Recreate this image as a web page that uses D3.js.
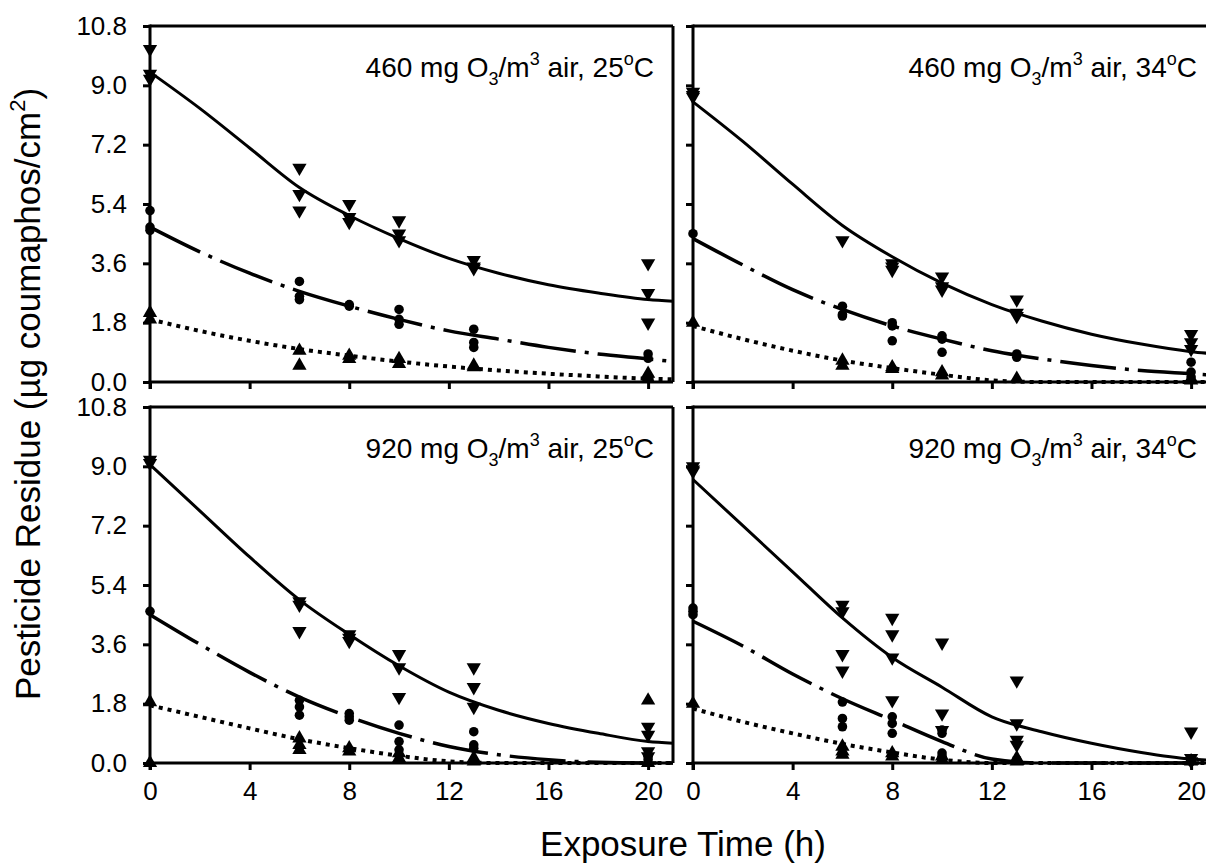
<!DOCTYPE html>
<html><head><meta charset="utf-8">
<script src="https://cdn.jsdelivr.net/npm/d3@7"></script>
<style>
html,body{margin:0;padding:0;background:#fff;}
svg{display:block;}
text{font-family:"Liberation Sans",Arial,sans-serif;fill:#000;}
</style></head>
<body>
<svg id="chart" width="1206" height="865"></svg>
<script>
// ---------- data ----------
const xTicks = [0, 4, 8, 12, 16, 20];
const yTicks = [0.0, 1.8, 3.6, 5.4, 7.2, 9.0, 10.8];
const panelLabels = [
  ["460", "25"], ["460", "34"], ["920", "25"], ["920", "34"]
];
const fitX = [0, 2, 4, 6, 8, 10, 12, 14, 16, 18, 20, 21];

// observed points [time, residue]
const tlDown = [[0,10.1],[0,9.35],[0,9.2],[6,6.5],[6,5.7],[6,5.2],[8,5.4],[8,5.0],[8,4.85],[10,4.9],[10,4.5],[10,4.3],[13,3.7],[13,3.5],[13,3.45],[20,3.6],[20,2.7],[20,1.8]];
const tlCirc = [[0,5.2],[0,4.7],[0,4.6],[6,3.05],[6,2.6],[6,2.5],[8,2.35],[8,2.3],[10,2.2],[10,1.9],[10,1.75],[13,1.6],[13,1.2],[13,1.05],[20,0.85],[20,0.72]];
const tlUp   = [[0,2.1],[0,1.9],[6,0.95],[6,0.5],[8,0.8],[8,0.7],[10,0.7],[10,0.55],[13,0.5],[13,0.45],[20,0.25],[20,0.1]];

const trDown = [[0,8.8],[0,8.7],[0,8.65],[6,4.3],[8,3.6],[8,3.5],[8,3.4],[10,3.2],[10,2.9],[10,2.8],[13,2.5],[13,2.1],[13,2.0],[20,1.45],[20,1.2],[20,1.0]];
const trCirc = [[0,4.5],[6,2.3],[6,2.05],[6,2.0],[8,1.8],[8,1.7],[8,1.25],[10,1.4],[10,1.3],[10,0.9],[13,0.85],[13,0.75],[20,0.6],[20,0.3],[20,0.15]];
const trUp   = [[0,1.8],[6,0.65],[6,0.5],[8,0.45],[8,0.4],[10,0.3],[10,0.2],[13,0.1],[20,0.1],[20,0.05]];

const blDown = [[0,9.2],[0,9.1],[6,4.9],[6,4.8],[6,4.0],[8,3.9],[8,3.8],[8,3.7],[10,3.3],[10,2.9],[10,2.0],[13,2.9],[13,2.3],[13,1.7],[20,1.1],[20,0.85],[20,0.35],[20,0.2]];
const blCirc = [[0,4.6],[6,1.9],[6,1.7],[6,1.45],[8,1.5],[8,1.4],[8,1.3],[10,1.15],[10,0.65],[10,0.4],[13,0.95],[13,0.55],[13,0.45],[20,0.2],[20,0.1]];
const blUp   = [[0,1.85],[0,0.0],[6,0.75],[6,0.55],[6,0.4],[8,0.45],[8,0.35],[10,0.3],[10,0.15],[13,0.15],[13,0.05],[20,1.9],[20,0.0]];

const brDown = [[0,9.0],[0,8.9],[0,8.85],[6,4.8],[6,4.6],[6,3.3],[6,2.8],[8,4.4],[8,3.9],[8,3.2],[8,1.9],[10,3.65],[10,1.5],[10,1.0],[13,2.5],[13,1.2],[13,0.7],[13,0.55],[20,0.95],[20,0.15],[20,0.05]];
const brCirc = [[0,4.7],[0,4.6],[0,4.5],[6,1.85],[6,1.35],[6,1.1],[8,1.4],[8,1.2],[8,0.9],[10,1.0],[10,0.9],[10,0.3],[10,0.2],[13,0.1],[20,0.05]];
const brUp   = [[0,1.8],[6,0.5],[6,0.35],[6,0.25],[8,0.3],[8,0.2],[10,0.2],[10,0.1],[13,0.15],[13,0.05],[20,0.05]];

// fitted curves, values at fitX
const tlSolid  = [9.4, 8.3, 7.1, 5.9, 5.05, 4.35, 3.75, 3.3, 2.95, 2.7, 2.5, 2.45];
const tlDash   = [4.7, 3.95, 3.3, 2.75, 2.3, 1.9, 1.55, 1.3, 1.05, 0.85, 0.7, 0.62];
const tlDot    = [1.9, 1.55, 1.25, 1.0, 0.8, 0.62, 0.47, 0.35, 0.25, 0.17, 0.1, 0.08];
const trSolid  = [8.5, 7.3, 6.0, 4.75, 3.8, 3.0, 2.35, 1.85, 1.45, 1.15, 0.92, 0.85];
const trDash   = [4.35, 3.55, 2.8, 2.2, 1.7, 1.3, 0.95, 0.7, 0.5, 0.35, 0.25, 0.2];
const trDot    = [1.7, 1.3, 0.95, 0.65, 0.42, 0.22, 0.05, 0.0, 0.0, 0.0, 0.0, 0.0];
const blSolid  = [9.05, 7.65, 6.25, 4.95, 3.9, 2.95, 2.15, 1.6, 1.2, 0.9, 0.65, 0.6];
const blDash   = [4.5, 3.6, 2.75, 2.0, 1.4, 0.9, 0.5, 0.25, 0.1, 0.02, 0.0, 0.0];
const blDot    = [1.75, 1.4, 1.05, 0.72, 0.45, 0.22, 0.05, 0.0, 0.0, 0.0, 0.0, 0.0];
const brSolid  = [8.6, 7.2, 5.8, 4.4, 3.2, 2.3, 1.4, 0.95, 0.6, 0.32, 0.12, 0.08];
const brDash   = [4.3, 3.55, 2.7, 1.95, 1.3, 0.65, 0.12, 0.0, 0.0, 0.0, 0.0, 0.0];
const brDot    = [1.65, 1.25, 0.9, 0.58, 0.32, 0.1, 0.0, 0.0, 0.0, 0.0, 0.0, 0.0];

// ---------- layout ----------
const svg = d3.select("#chart");
const colX = [[150, 673], [693, 1216]];
const rowY = [[382, 26], [763, 407]];
const panels = [
  {c:0, r:0, down:tlDown, circ:tlCirc, up:tlUp, solid:tlSolid, dash:tlDash, dot:tlDot, lab:panelLabels[0]},
  {c:1, r:0, down:trDown, circ:trCirc, up:trUp, solid:trSolid, dash:trDash, dot:trDot, lab:panelLabels[1]},
  {c:0, r:1, down:blDown, circ:blCirc, up:blUp, solid:blSolid, dash:blDash, dot:blDot, lab:panelLabels[2]},
  {c:1, r:1, down:brDown, circ:brCirc, up:brUp, solid:brSolid, dash:brDash, dot:brDot, lab:panelLabels[3]}
];

const triSym = d3.symbol().type(d3.symbolTriangle).size(88);
const circSym = d3.symbol().type(d3.symbolCircle).size(72);

panels.forEach(p => {
  const x = d3.scaleLinear().domain([0, 21]).range(colX[p.c]);
  const y = d3.scaleLinear().domain([0, 10.8]).range(rowY[p.r]);
  const g = svg.append("g");

  // frame (top + right)
  g.append("line").attr("x1", x(0)).attr("x2", x(21)).attr("y1", y(10.8)).attr("y2", y(10.8))
    .attr("stroke", "#000").attr("stroke-width", 3);
  g.append("line").attr("x1", x(21)).attr("x2", x(21)).attr("y1", y(10.8)).attr("y2", y(0))
    .attr("stroke", "#000").attr("stroke-width", 3);

  // axes
  const xAx = d3.axisBottom(x).tickValues(xTicks).tickSizeInner(7).tickSizeOuter(0)
    .tickFormat(p.r === 1 ? d3.format("d") : () => "").tickPadding(12);
  const gx = g.append("g").attr("transform", `translate(0,${y(0)})`).call(xAx);
  const yAx = d3.axisLeft(y).tickValues(yTicks).tickSizeInner(7).tickSizeOuter(0)
    .tickFormat(p.c === 0 ? d3.format(".1f") : () => "").tickPadding(16);
  const gy = g.append("g").attr("transform", `translate(${x(0)},0)`).call(yAx);
  [gx, gy].forEach(a => {
    a.select(".domain").attr("stroke-width", 3).attr("stroke", "#000");
    a.selectAll(".tick line").attr("stroke-width", 3).attr("stroke", "#000");
    a.selectAll(".tick text").attr("font-size", 26).attr("font-family", '"Liberation Sans",Arial,sans-serif');
  });
  gx.select(".domain").attr("d", `M${x(0)-1.5},0H${x(21)}`);
  gy.select(".domain").attr("d", `M0,${y(10.8)-1.5}V${y(0)+7}`);

  // curves
  const line = d3.line().x((d, i) => x(fitX[i])).y(d => y(d)).curve(d3.curveMonotoneX);
  g.append("path").attr("d", line(p.solid)).attr("fill", "none").attr("stroke", "#000").attr("stroke-width", 3);
  g.append("path").attr("d", line(p.dash)).attr("fill", "none").attr("stroke", "#000").attr("stroke-width", 3.5)
    .attr("stroke-dasharray", "56,9,4,9");
  g.append("path").attr("d", line(p.dot)).attr("fill", "none").attr("stroke", "#000").attr("stroke-width", 4)
    .attr("stroke-dasharray", "4,5");

  // markers
  g.selectAll(".dn").data(p.down).enter().append("path")
    .attr("d", triSym).attr("transform", d => `translate(${x(d[0])},${y(d[1])}) rotate(180)`).attr("fill", "#000");
  g.selectAll(".ci").data(p.circ).enter().append("path")
    .attr("d", circSym).attr("transform", d => `translate(${x(d[0])},${y(d[1])})`).attr("fill", "#000");
  g.selectAll(".up").data(p.up).enter().append("path")
    .attr("d", triSym).attr("transform", d => `translate(${x(d[0])},${y(d[1])})`).attr("fill", "#000");

  // label
  const t = g.append("text").attr("x", x(0) + 504).attr("y", y(10.8) + 51)
    .attr("text-anchor", "end").attr("font-size", 28);
  t.append("tspan").text(p.lab[0] + " mg O");
  t.append("tspan").text("3").attr("font-size", 18).attr("dy", 8);
  t.append("tspan").text("/m").attr("dy", -8);
  t.append("tspan").text("3").attr("font-size", 18).attr("dy", -12);
  t.append("tspan").text(" air, " + p.lab[1]).attr("dy", 12);
  t.append("tspan").text("o").attr("font-size", 18).attr("dy", -12);
  t.append("tspan").text("C").attr("dy", 12);
});

// axis titles
svg.append("text").attr("x", 683).attr("y", 856).attr("text-anchor", "middle")
  .attr("font-size", 35).text("Exposure Time (h)");
const yt = svg.append("text").attr("transform", "translate(40,394) rotate(-90)")
  .attr("text-anchor", "middle").attr("font-size", 35);
yt.append("tspan").text("Pesticide Residue (µg coumaphos/cm");
yt.append("tspan").text("2").attr("font-size", 22).attr("dy", -15);
yt.append("tspan").text(")").attr("dy", 15);
</script>
</body></html>
